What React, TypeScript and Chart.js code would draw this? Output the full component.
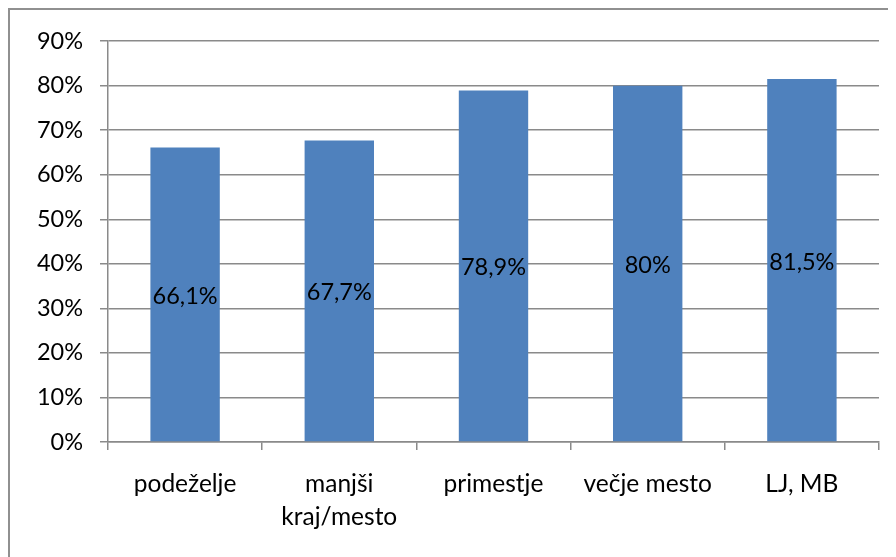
import React, { useEffect, useRef } from "react";
import { Chart, registerables } from "chart.js";

Chart.register(...registerables);

const categories: (string | string[])[] = [
  "podeželje",
  ["manjši", "kraj/mesto"],
  "primestje",
  "večje mesto",
  "LJ, MB",
];
const values: number[] = [66.1, 67.7, 78.9, 80, 81.5];
const yMax = 90;
const yStep = 10;

const FONT = "Lato, 'Open Sans', sans-serif";
const GRID = "#8a8a8a";

const barLabels = {
  id: "barLabels",
  afterDatasetsDraw(chart: any) {
    const ctx = chart.ctx;
    const meta = chart.getDatasetMeta(0);
    ctx.save();
    ctx.font = `23.5px ${FONT}`;
    ctx.fillStyle = "#000";
    ctx.textAlign = "center";
    ctx.textBaseline = "middle";
    meta.data.forEach((bar: any, i: number) => {
      const v = values[i];
      const txt = String(v).replace(".", ",") + "%";
      const y = (bar.y + bar.base) / 2;
      ctx.fillText(txt, bar.x, y + 2);
    });
    ctx.restore();
  },
};

export default function App() {
  const ref = useRef<HTMLCanvasElement | null>(null);
  useEffect(() => {
    if (!ref.current) return;
    const chart = new Chart(ref.current, {
      type: "bar",
      data: {
        labels: categories,
        datasets: [
          {
            data: values,
            backgroundColor: "#4F81BD",
            borderWidth: 0,
            barPercentage: 0.45,
            categoryPercentage: 1,
          },
        ],
      },
      options: {
        animation: false,
        responsive: false,
        maintainAspectRatio: false,
        layout: { padding: { top: 29, right: 17, left: 0, bottom: 0 } },
        plugins: {
          legend: { display: false },
          tooltip: { enabled: false },
        },
        scales: {
          x: {
            offset: true,
            grid: {
              offset: true,
              drawOnChartArea: false,
              drawTicks: true,
              tickLength: 8,
              color: GRID,
              lineWidth: 1.5,
            },
            border: { color: GRID, width: 1.5 },
            ticks: {
              color: "#000",
              font: { family: FONT, size: 24.5, lineHeight: 1.36 },
              padding: 17,
              maxRotation: 0,
              autoSkip: false,
            },
            afterFit: (s: any) => {
              s.height = 115;
            },
          },
          y: {
            min: 0,
            max: yMax,
            grid: {
              color: GRID,
              lineWidth: 1.5,
              tickLength: 8,
              drawTicks: true,
            },
            border: { color: GRID, width: 1.5 },
            ticks: {
              stepSize: yStep,
              color: "#000",
              font: { family: FONT, size: 23.5 },
              padding: 17,
              callback: (v: any) => v + "%",
            },
            afterFit: (s: any) => {
              s.width = 98;
            },
          },
        },
      },
      plugins: [barLabels],
    });
    return () => chart.destroy();
  }, []);
  return (
    <div
      style={{
        width: 886,
        height: 547,
        borderTop: "2px solid #909090",
        borderLeft: "2px solid #909090",
      }}
    >
      <canvas ref={ref} width={886} height={547} style={{ display: "block" }} />
    </div>
  );
}
